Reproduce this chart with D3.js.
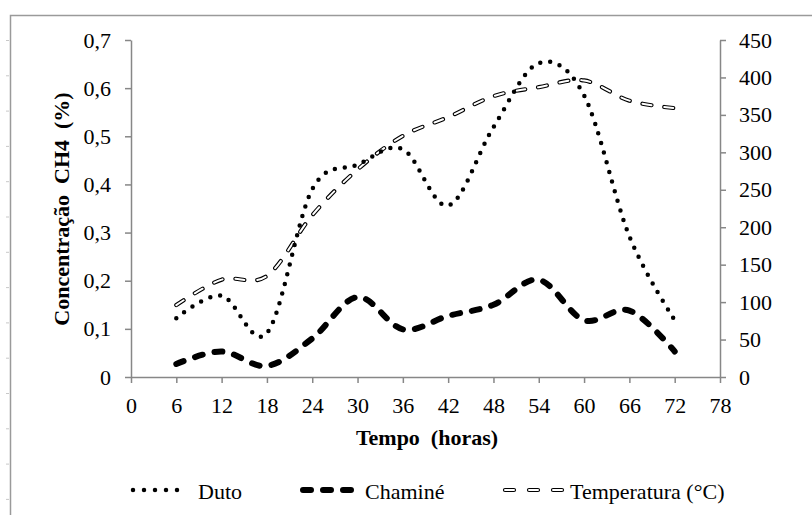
<!doctype html>
<html>
<head>
<meta charset="utf-8">
<style>
  body { margin: 0; background: #fff; }
  #chart { display: block; }
  #chart text { font-family: "Liberation Serif", Tinos, "Times New Roman", Times, "DejaVu Serif", serif; fill: #000; }
  #chart .domain, #chart .tick line { stroke: #878787; stroke-width: 1.5; }
  #chart .tick text { font-size: 22px; }
  #chart .title { font-size: 22px; font-weight: bold; white-space: pre; }
  #chart .legend text { font-size: 22px; }
</style>
</head>
<body>
<svg id="chart"></svg>
<script src="https://cdn.jsdelivr.net/npm/d3@7"></script>
<script>
// hours of measurement
var hours = [6, 12, 18, 24, 30, 36, 42, 48, 54, 60, 66, 72];
// CH4 concentration (%)
var duto = [0.122, 0.169, 0.091, 0.39, 0.441, 0.473, 0.356, 0.519, 0.652, 0.585, 0.292, 0.118];
var chamine = [0.027, 0.053, 0.023, 0.08, 0.166, 0.099, 0.127, 0.15, 0.202, 0.118, 0.138, 0.053];
// temperature (°C), right axis
var temperatura = [96, 130, 135, 216, 277, 322, 347, 375, 387, 396, 369, 359];

var xTicks = [0, 6, 12, 18, 24, 30, 36, 42, 48, 54, 60, 66, 72, 78];
var leftTicks = [0, 0.1, 0.2, 0.3, 0.4, 0.5, 0.6, 0.7];
var rightTicks = [0, 50, 100, 150, 200, 250, 300, 350, 400, 450];

var width = 812, height = 515;
var svg = d3.select("#chart").attr("width", width).attr("height", height);

// chart area frame (cut off on the right and bottom, as in the sheet)
svg.append("rect")
  .attr("x", 10.5).attr("y", 15.5)
  .attr("width", 900).attr("height", 600)
  .attr("fill", "#fff").attr("stroke", "#9a9a9a").attr("stroke-width", 1.5);

// little sheet gridline stubs left of the frame
svg.append("g").selectAll("line")
  .data(d3.range(40.5, 515, 35.3))
  .enter().append("line")
    .attr("x1", 6).attr("x2", 9)
    .attr("y1", function(d) { return d; }).attr("y2", function(d) { return d; })
    .attr("stroke", "#c8c8c8").attr("stroke-width", 1);

var x = d3.scaleLinear().domain([0, 78]).range([131, 720]);
var yL = d3.scaleLinear().domain([0, 0.7]).range([377, 40]);
var yR = d3.scaleLinear().domain([0, 450]).range([377, 40]);

var commaFmt = function(d) { return d === 0 ? "0" : d3.format(".1f")(d).replace(".", ","); };

svg.append("g")
  .attr("transform", "translate(0,377)")
  .call(d3.axisBottom(x).tickValues(xTicks).tickSize(6).tickSizeOuter(0).tickPadding(14));

svg.append("g")
  .attr("transform", "translate(131,0)")
  .call(d3.axisLeft(yL).tickValues(leftTicks).tickFormat(commaFmt).tickSize(6).tickSizeOuter(0).tickPadding(14));

svg.append("g")
  .attr("transform", "translate(720,0)")
  .call(d3.axisRight(yR).tickValues(rightTicks).tickSize(6).tickSizeOuter(0).tickPadding(13));

svg.selectAll(".tick text").attr("font-family", null);
svg.selectAll("g").attr("font-family", null);

// axis titles
svg.append("text").attr("class", "title")
  .attr("transform", "translate(69,209) rotate(-90)")
  .attr("text-anchor", "middle")
  .text("Concentração  CH4  (%)");

svg.append("text").attr("class", "title")
  .attr("x", 427).attr("y", 445)
  .attr("text-anchor", "middle")
  .text("Tempo  (horas)");

// smoothed lines like the spreadsheet
var lineL = d3.line()
  .x(function(d, i) { return x(hours[i]); })
  .y(function(d) { return yL(d); })
  .curve(d3.curveCatmullRom.alpha(0));
var lineR = d3.line()
  .x(function(d, i) { return x(hours[i]); })
  .y(function(d) { return yR(d); })
  .curve(d3.curveCatmullRom.alpha(0));

// temperatura: hollow dashes (black outline + white core)
svg.append("path").datum(temperatura)
  .attr("d", lineR).attr("fill", "none")
  .attr("stroke", "#000").attr("stroke-width", 4.2)
  .attr("stroke-linecap", "round").attr("stroke-dasharray", "9,13");
svg.append("path").datum(temperatura)
  .attr("d", lineR).attr("fill", "none")
  .attr("stroke", "#fff").attr("stroke-width", 2)
  .attr("stroke-linecap", "round").attr("stroke-dasharray", "9,13");

svg.append("path").datum(chamine)
  .attr("d", lineL).attr("fill", "none")
  .attr("stroke", "#000").attr("stroke-width", 6)
  .attr("stroke-linecap", "round").attr("stroke-dasharray", "8,12");

svg.append("path").datum(duto)
  .attr("d", lineL).attr("fill", "none")
  .attr("stroke", "#000").attr("stroke-width", 4.5)
  .attr("stroke-linecap", "round").attr("stroke-dasharray", "0,10");

// legend
var legend = svg.append("g").attr("class", "legend");
var ly = 490;

legend.append("line")
  .attr("x1", 133).attr("x2", 188).attr("y1", ly).attr("y2", ly)
  .attr("stroke", "#000").attr("stroke-width", 4.5)
  .attr("stroke-linecap", "round").attr("stroke-dasharray", "0,11");
legend.append("text").attr("x", 198).attr("y", 499).text("Duto");

legend.append("line")
  .attr("x1", 303).attr("x2", 353).attr("y1", ly).attr("y2", ly)
  .attr("stroke", "#000").attr("stroke-width", 6)
  .attr("stroke-linecap", "round").attr("stroke-dasharray", "8,12");
legend.append("text").attr("x", 365).attr("y", 499).text("Chaminé");

legend.append("line")
  .attr("x1", 505).attr("x2", 563).attr("y1", ly).attr("y2", ly)
  .attr("stroke", "#000").attr("stroke-width", 4.2)
  .attr("stroke-linecap", "round").attr("stroke-dasharray", "9,15");
legend.append("line")
  .attr("x1", 505).attr("x2", 563).attr("y1", ly).attr("y2", ly)
  .attr("stroke", "#fff").attr("stroke-width", 2)
  .attr("stroke-linecap", "round").attr("stroke-dasharray", "9,15");
legend.append("text").attr("x", 570).attr("y", 499).text("Temperatura (°C)");
</script>
</body>
</html>
